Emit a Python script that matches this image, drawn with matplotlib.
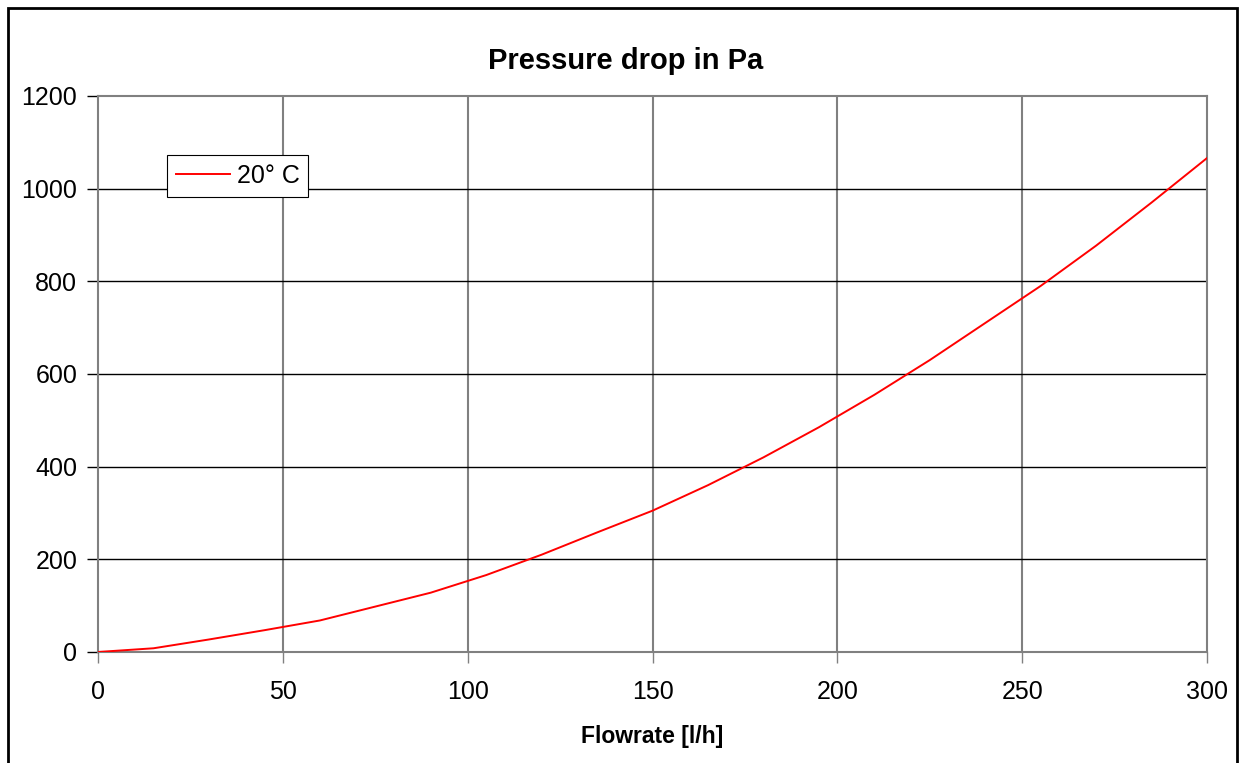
import matplotlib
matplotlib.use("Agg")
from matplotlib import pyplot as plt
from matplotlib.patches import Rectangle

plt.rcParams['font.family'] = ['Liberation Sans', 'DejaVu Sans']

# flowrate in l/h, pressure drop in Pa
flowrate = [0, 15, 30, 45, 60, 75, 90, 105, 120, 135, 150, 165, 180, 195, 210, 225, 240, 255, 270, 285, 300]
pressure = [0, 8, 27, 47, 68, 98, 128, 166, 210, 258, 305, 360, 420, 485, 555, 630, 710, 790, 877, 970, 1066]
x_ticks = [0, 50, 100, 150, 200, 250, 300]
y_ticks = [0, 200, 400, 600, 800, 1000, 1200]

fig = plt.figure(figsize=(12.46, 7.63), dpi=100)
ax = fig.add_axes([0.0787, 0.1455, 0.89, 0.7287])

ax.plot(flowrate, pressure, color='#ff0000', lw=1.4, label='20° C', zorder=3)

ax.set_xlim(0, 300)
ax.set_ylim(0, 1200)
ax.set_xticks(x_ticks)
ax.set_yticks(y_ticks)

# grid: grey verticals, black horizontals
for xv in x_ticks[1:-1]:
    ax.axvline(xv, color='#808080', lw=1.5, zorder=1)
for yv in y_ticks[1:-1]:
    ax.axhline(yv, color='#000000', lw=1.0, zorder=1)

for side in ['top', 'right', 'left', 'bottom']:
    ax.spines[side].set_color('#808080')
    ax.spines[side].set_linewidth(1.5)

ax.tick_params(axis='y', length=8, width=1, color='black', pad=7, labelsize=18)
ax.tick_params(axis='x', length=8, width=1, color='#808080', pad=12, labelsize=18)

# title is centred on the whole picture, not on the axes
fig.text(0.5025, 1 - 61 / 763, 'Pressure drop in Pa', fontsize=21, fontweight='bold',
         ha='center', va='center')
ax.set_xlabel('Flowrate [l/h]', fontsize=16.5, fontweight='bold', labelpad=15)

leg = ax.legend(loc='upper left', bbox_to_anchor=(0.062, 0.894), fontsize=18,
                fancybox=False, framealpha=1, edgecolor='black',
                handlelength=2.15, borderaxespad=0, borderpad=0.36, handletextpad=0.28)
leg.get_frame().set_linewidth(0.8)

# outer frame of the picture
fig.patches.append(Rectangle((8 / 1246, -0.01), (1237 - 8) / 1246, 1 - 8 / 763 + 0.01,
                             transform=fig.transFigure, fill=False,
                             edgecolor='black', lw=2))

fig.savefig('out.png', dpi=100)
